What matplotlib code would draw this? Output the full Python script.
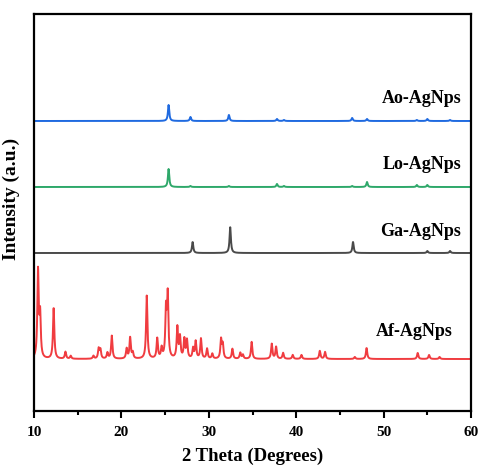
import numpy as np
import matplotlib
matplotlib.use('Agg')
import matplotlib.pyplot as plt
from matplotlib.ticker import MultipleLocator

plt.rcParams['font.family'] = ['Liberation Serif', 'DejaVu Serif']
plt.rcParams['font.weight'] = 'bold'

# peak lists: (2theta, height)
af_pos = [10.46, 10.7, 12.25, 13.6, 14.2, 16.8, 17.4, 17.6, 18.4, 18.9, 20.6, 21.0, 21.3,
          22.9, 24.1, 24.6, 25.1, 25.3, 26.4, 26.7, 27.2, 27.5, 28.2, 28.5, 29.1, 29.8,
          30.4, 31.4, 31.6, 32.7, 33.6, 33.9, 34.9, 37.2, 37.7, 38.5, 39.6, 40.6, 42.7,
          43.3, 46.7, 48.05, 53.9, 55.2, 56.4]
af_h = [87, 42, 51, 7, 3, 3, 10, 9, 6, 23, 10, 21, 6,
        63, 20, 10, 47, 62, 31, 21, 19, 18, 10, 17, 20, 10,
        5, 19, 14, 10, 6, 4, 17, 15, 12, 6, 4, 4, 8,
        7, 2, 11, 6, 4, 2]

ga_pos = [28.15, 32.45, 46.5, 55.0, 57.6]
ga_h = [11, 26, 11, 2, 2]

lo_pos = [25.4, 27.9, 32.3, 37.8, 38.6, 46.4, 48.1, 53.8, 55.0]
lo_h = [18, 1, 1, 3, 1, 1, 5, 2, 2]

ao_pos = [25.4, 27.9, 32.3, 37.8, 38.6, 46.4, 48.1, 53.8, 55.0, 57.6]
ao_h = [16, 4, 6, 2, 1, 3, 2, 1, 2, 1]

names = ['Af-AgNps', 'Ga-AgNps', 'Lo-AgNps', 'Ao-AgNps']
offsets = [52, 158, 224, 290]
colors = ['#f03c40', '#4a4a4a', '#2ea86a', '#1f6ae0']

x = np.arange(10, 60.001, 0.02)


def pattern(pos, h, w=0.09):
    y = np.zeros_like(x)
    for p, a in zip(pos, h):
        y += a / (1 + ((x - p) / w) ** 2)
    return y


fig = plt.figure(figsize=(4.78, 4.66), dpi=100)
ax = fig.add_axes([0.0711, 0.118, 0.9143, 0.852])

series = [(af_pos, af_h), (ga_pos, ga_h), (lo_pos, lo_h), (ao_pos, ao_h)]
for (pos, h), off, c in zip(series, offsets, colors):
    ax.plot(x, pattern(pos, h) + off, color=c, lw=1.4)

# labels
ax.text(57.9, 80, 'Af-AgNps', ha='right', va='center', fontsize=13, fontweight='bold')
ax.text(58.9, 179, 'Ga-AgNps', ha='right', va='center', fontsize=13, fontweight='bold')
ax.text(58.9, 246, 'Lo-AgNps', ha='right', va='center', fontsize=13, fontweight='bold')
ax.text(58.9, 312, 'Ao-AgNps', ha='right', va='center', fontsize=13, fontweight='bold')

ax.set_xlim(10, 60)
ax.set_ylim(0, 397)
ax.set_yticks([])
ax.xaxis.set_major_locator(MultipleLocator(10))
ax.xaxis.set_minor_locator(MultipleLocator(5))
ax.tick_params(axis='x', which='major', direction='out', length=5, width=1.5, labelsize=11, pad=6)
ax.tick_params(axis='x', which='minor', direction='out', length=3, width=1.5)
for lab in ax.get_xticklabels():
    lab.set_fontweight('bold')
for s in ax.spines.values():
    s.set_linewidth(1.6)

ax.set_xlabel('2 Theta (Degrees)', fontsize=13.5, fontweight='bold', labelpad=6)
ax.set_ylabel('Intensity (a.u.)', fontsize=14, fontweight='bold')
ax.yaxis.set_label_coords(-0.032, 0.534)

fig.savefig('out.png', dpi=100)
